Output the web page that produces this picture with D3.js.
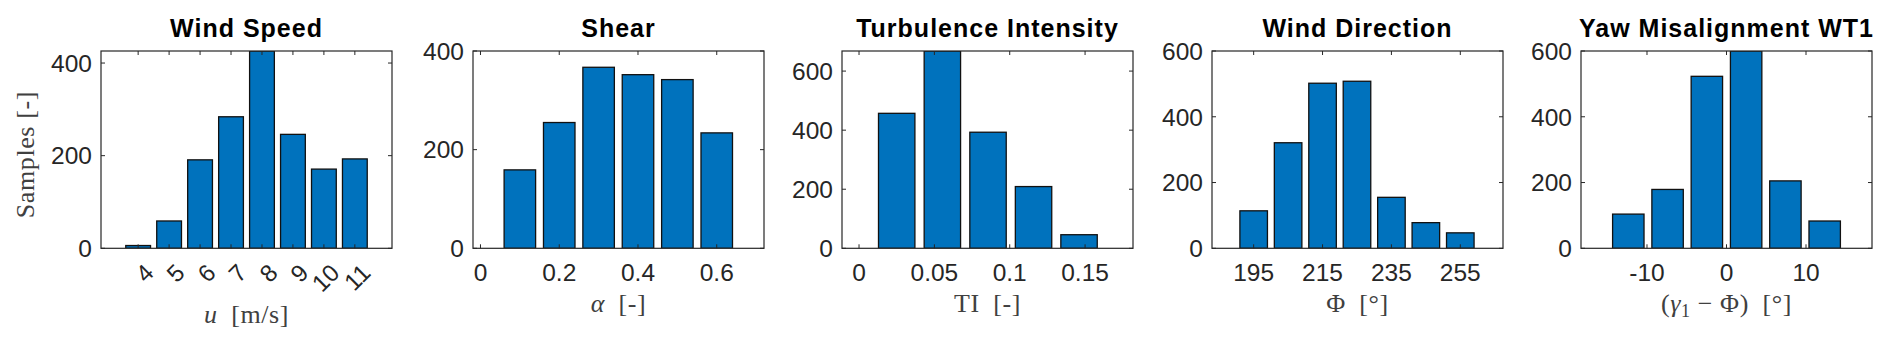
<!DOCTYPE html>
<html>
<head>
<meta charset="utf-8">
<script src="https://cdn.jsdelivr.net/npm/d3@7"></script>
<style>
  body { margin: 0; background: #fff; }
  svg { display: block; }
  .tick-label { font-family: "Liberation Sans", Arial, sans-serif; font-size: 24.5px; fill: #262626; }
  .title { font-family: "Liberation Sans", Arial, sans-serif; font-size: 25px; font-weight: bold; fill: #000; letter-spacing: 1px; }
  .axis-label { font-family: "Liberation Serif", "Times New Roman", serif; font-size: 26px; fill: #404040; letter-spacing: 0.6px; }
</style>
</head>
<body>
<script>
// bin centres and sample counts
const speedBins = [4, 5, 6, 7, 8, 9, 10, 11];
const speedCounts = [6, 59, 191, 284, 426, 246, 171, 193];
const speedTicks = [4, 5, 6, 7, 8, 9, 10, 11];

const shearBins = [0.1, 0.2, 0.3, 0.4, 0.5, 0.6];
const shearCounts = [159, 255, 367, 352, 342, 234];
const shearTicks = [0, 0.2, 0.4, 0.6];

const tiBins = [0.025, 0.0553, 0.0856, 0.1158, 0.146];
const tiCounts = [457, 668, 393, 209, 46];
const tiTicks = [0, 0.05, 0.1, 0.15];

const dirBins = [195, 205, 215, 225, 235, 245, 255];
const dirCounts = [114, 321, 502, 508, 155, 78, 47];
const dirTicks = [195, 215, 235, 255];

const yawBins = [-12.35, -7.41, -2.47, 2.47, 7.41, 12.35];
const yawCounts = [104, 179, 523, 600, 205, 83];
const yawTicks = [-10, 0, 10];

const width = 1892,
    height = 348;

const svg = d3.select('body').append('svg')
    .attr('width', width)
    .attr('height', height);

// one entry per subplot
const panels = [
    {title: 'Wind Speed', bins: speedBins, counts: speedCounts, xTicks: speedTicks, xDomain: [2.8, 12.2],
     yDomain: [0, 426], yTicks: [0, 200, 400], binWidth: 1, left: 101, rotate: true, ylabel: true,
     xlabel: [['u', 'italic'], ['\u2002[m/s]', 'normal']]},
    {title: 'Shear', bins: shearBins, counts: shearCounts, xTicks: shearTicks, xDomain: [-0.019, 0.72],
     yDomain: [0, 400], yTicks: [0, 200, 400], binWidth: 0.1, left: 473,
     xlabel: [['\u03b1', 'italic'], ['\u2002[-]', 'normal']]},
    {title: 'Turbulence Intensity', bins: tiBins, counts: tiCounts, xTicks: tiTicks, xDomain: [-0.0113, 0.1818],
     yDomain: [0, 668], yTicks: [0, 200, 400, 600], binWidth: 0.0302, left: 842,
     xlabel: [['TI', 'normal'], ['\u2002[-]', 'normal']]},
    {title: 'Wind Direction', bins: dirBins, counts: dirCounts, xTicks: dirTicks, xDomain: [182.9, 267.4],
     yDomain: [0, 600], yTicks: [0, 200, 400, 600], binWidth: 10, left: 1212,
     xlabel: [['\u03a6', 'normal'], ['\u2002[\u00b0]', 'normal']]},
    {title: 'Yaw Misalignment WT1', bins: yawBins, counts: yawCounts, xTicks: yawTicks, xDomain: [-18.3, 18.3],
     yDomain: [0, 600], yTicks: [0, 200, 400, 600], binWidth: 4.94, left: 1581,
     xlabel: [['(', 'normal'], ['\u03b3', 'italic'], ['1', 'sub'], ['\u2005\u2212\u2005\u03a6)', 'normal'], ['\u2002[\u00b0]', 'normal']]}
];

const axW = 291,
    axTop = 51,
    axBottom = 248.3,
    tickLen = 4;

panels.forEach((p, i) => {
    const x = d3.scaleLinear().domain(p.xDomain).range([p.left, p.left + axW]);
    const y = d3.scaleLinear().domain(p.yDomain).range([axBottom, axTop]);

    const g = svg.append('g');

    g.append('clipPath').attr('id', 'clip' + i)
        .append('rect')
        .attr('x', p.left).attr('y', axTop)
        .attr('width', axW).attr('height', axBottom - axTop);

    // bars
    g.append('g')
        .attr('clip-path', `url(#clip${i})`)
        .selectAll('rect')
        .data(p.bins)
        .enter()
        .append('rect')
        .attr('x', d => x(d - p.binWidth * 0.4))
        .attr('width', d => x(d + p.binWidth * 0.4) - x(d - p.binWidth * 0.4))
        .attr('y', (d, j) => y(p.counts[j]))
        .attr('height', (d, j) => axBottom - y(p.counts[j]))
        .attr('fill', '#0072bd')
        .attr('stroke', '#111')
        .attr('stroke-width', 1.3);

    // box
    g.append('rect')
        .attr('x', p.left).attr('y', axTop)
        .attr('width', axW).attr('height', axBottom - axTop)
        .attr('fill', 'none')
        .attr('stroke', '#262626')
        .attr('stroke-width', 1.2);

    // x ticks (bottom + top, inward)
    p.xTicks.forEach(t => {
        g.append('line').attr('x1', x(t)).attr('x2', x(t))
            .attr('y1', axBottom).attr('y2', axBottom - tickLen)
            .attr('stroke', '#262626');
        g.append('line').attr('x1', x(t)).attr('x2', x(t))
            .attr('y1', axTop).attr('y2', axTop + tickLen)
            .attr('stroke', '#262626');
    });
    // y ticks (left + right, inward)
    p.yTicks.forEach(t => {
        g.append('line').attr('x1', p.left).attr('x2', p.left + tickLen)
            .attr('y1', y(t)).attr('y2', y(t))
            .attr('stroke', '#262626');
        g.append('line').attr('x1', p.left + axW).attr('x2', p.left + axW - tickLen)
            .attr('y1', y(t)).attr('y2', y(t))
            .attr('stroke', '#262626');
    });

    // y tick labels
    g.selectAll('.ylab')
        .data(p.yTicks)
        .enter()
        .append('text')
        .attr('class', 'tick-label')
        .attr('x', p.left - 9)
        .attr('y', d => y(d))
        .attr('dy', '0.36em')
        .attr('text-anchor', 'end')
        .text(d => d);

    // x tick labels
    if (p.rotate) {
        g.selectAll('.xlab')
            .data(p.xTicks)
            .enter()
            .append('text')
            .attr('class', 'tick-label')
            .style('font-size', '24px')
            .attr('text-anchor', 'end')
            .attr('dy', '0.36em')
            .attr('transform', d => `translate(${x(d) + 11},${axBottom + 20}) rotate(-45)`)
            .text(d => d);
    } else {
        g.selectAll('.xlab')
            .data(p.xTicks)
            .enter()
            .append('text')
            .attr('class', 'tick-label')
            .attr('x', d => x(d))
            .attr('y', axBottom + 33)
            .attr('text-anchor', 'middle')
            .text(d => d);
    }

    // title
    g.append('text')
        .attr('class', 'title')
        .attr('x', p.left + axW / 2)
        .attr('y', 37)
        .attr('text-anchor', 'middle')
        .text(p.title);

    // x label
    const xl = g.append('text')
        .attr('class', 'axis-label')
        .attr('x', p.left + axW / 2)
        .attr('y', p.rotate ? 323 : 312)
        .attr('text-anchor', 'middle');
    p.xlabel.forEach(([s, style]) => {
        const ts = xl.append('tspan').text(s);
        if (style === 'italic') ts.style('font-style', 'italic');
        if (style === 'sub') ts.style('font-size', '18px').attr('dy', 5);
        if (style === 'normal' && s.includes('\u2212')) ts.attr('dy', -5);
    });

    // y label
    if (p.ylabel) {
        g.append('text')
            .attr('class', 'axis-label')
            .attr('transform', `translate(34,${(axTop + axBottom) / 2 + 5}) rotate(-90)`)
            .attr('text-anchor', 'middle')
            .text('Samples [-]');
    }
});
</script>
</body>
</html>
